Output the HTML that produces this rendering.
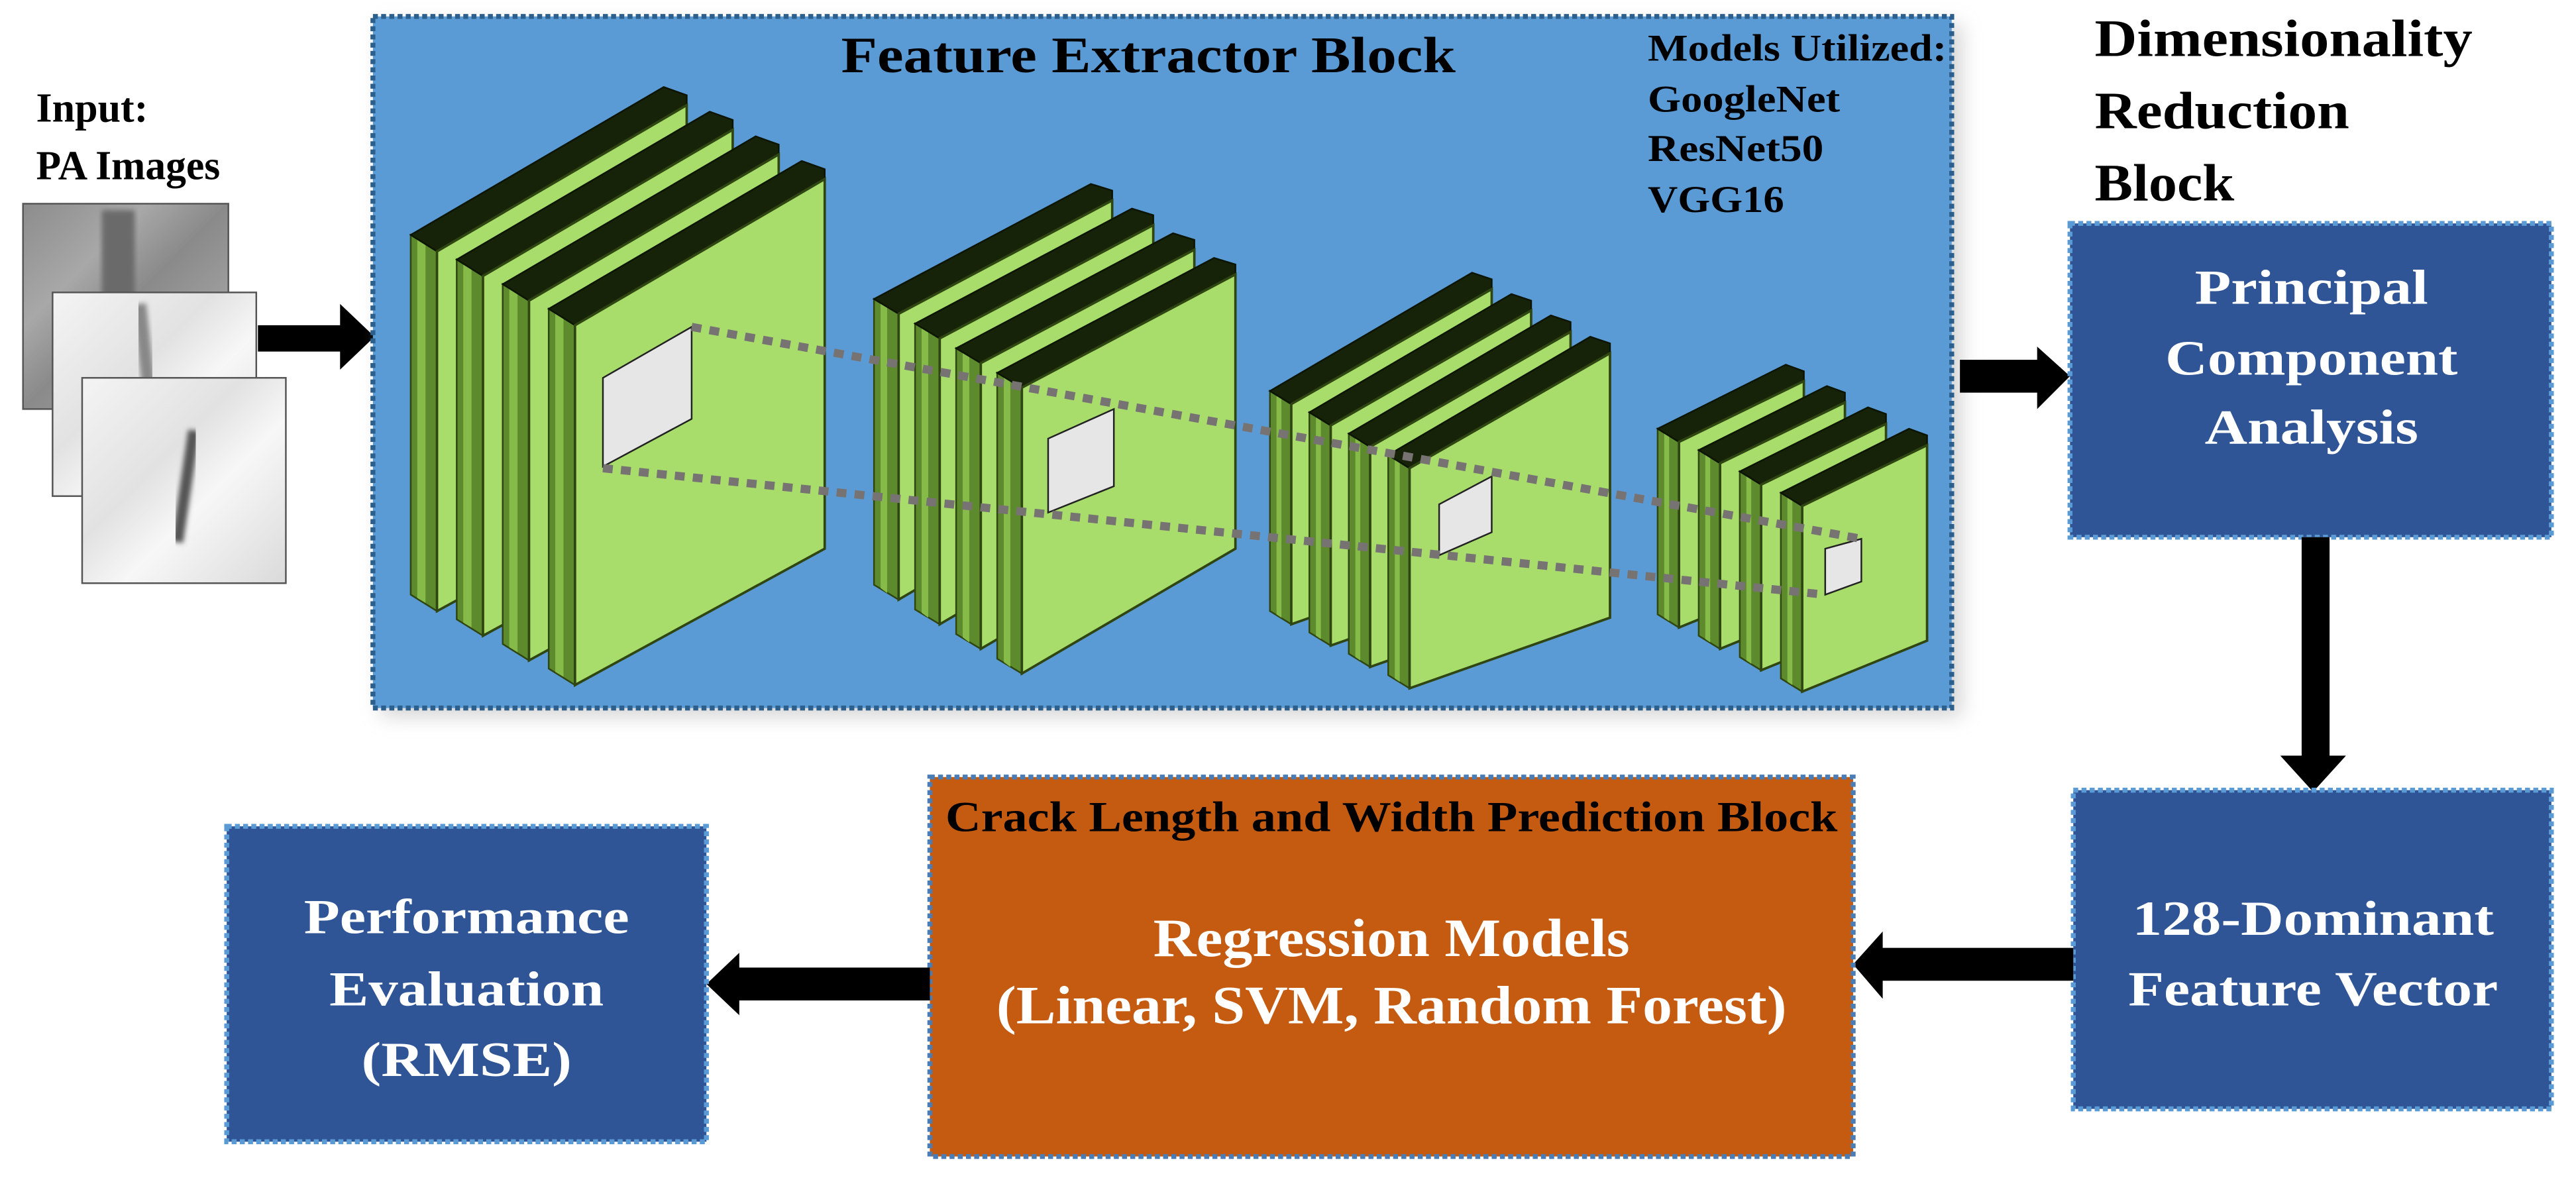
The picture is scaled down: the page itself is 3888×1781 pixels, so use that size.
<!DOCTYPE html>
<html><head><meta charset="utf-8"><style>
html,body{margin:0;padding:0;background:#fff;}
svg{display:block;}
text{font-family:"Liberation Serif",serif;font-weight:bold;}
</style></head><body>
<svg width="3888" height="1781" viewBox="0 0 1568 718.3" preserveAspectRatio="none" xmlns="http://www.w3.org/2000/svg">
<defs>
<linearGradient id="g1" x1="0" y1="0" x2="1" y2="1">
<stop offset="0" stop-color="#8c8c8c"/><stop offset="0.3" stop-color="#a8a8a8"/><stop offset="0.5" stop-color="#8a8a8a"/><stop offset="0.75" stop-color="#a0a0a0"/><stop offset="1" stop-color="#808080"/></linearGradient>
<linearGradient id="g2" x1="0" y1="0" x2="1" y2="1">
<stop offset="0" stop-color="#f4f4f4"/><stop offset="0.4" stop-color="#e2e2e2"/><stop offset="0.6" stop-color="#f7f7f7"/><stop offset="1" stop-color="#dadada"/></linearGradient>
<filter id="bl"><feGaussianBlur stdDeviation="1.5"/></filter>
<filter id="sh" x="-20%" y="-20%" width="140%" height="140%"><feGaussianBlur stdDeviation="6"/></filter>

<!-- stack 1 plate -->
<g id="p1">
<polygon points="350,198 350,417 334,407 334,188" fill="#5d8a2c" stroke="#2f4512" stroke-width="1"/>
<polygon points="343,193 343,412 338,409 338,190" fill="#86bb4a"/>
<polygon points="350,198 502,109 502,103 488,98 334,188" fill="#172309" stroke="#0c1404" stroke-width="1"/>
<polygon points="350,198 502,109 502,334 350,417" fill="#a8dd6c" stroke="#2f4512" stroke-width="1.5"/>
</g>
<g id="p2">
<polygon points="622,236 622,410 607,401 607,227" fill="#5d8a2c" stroke="#2f4512" stroke-width="1"/>
<polygon points="615,232 615,406 611,403 611,229" fill="#86bb4a"/>
<polygon points="622,236 752,167 752,161 739,157 607,227" fill="#172309" stroke="#0c1404" stroke-width="1"/>
<polygon points="622,236 752,167 752,334 622,410" fill="#a8dd6c" stroke="#2f4512" stroke-width="1.5"/>
</g>
<g id="p3">
<polygon points="858,285 858,419 845,411 845,277" fill="#5d8a2c" stroke="#2f4512" stroke-width="1"/>
<polygon points="852,281 852,415 849,413 849,279" fill="#86bb4a"/>
<polygon points="858,285 980,215 980,209 968,205 845,277" fill="#172309" stroke="#0c1404" stroke-width="1"/>
<polygon points="858,285 980,215 980,376 858,419" fill="#a8dd6c" stroke="#2f4512" stroke-width="1.5"/>
</g>
<g id="p4">
<polygon points="1097,308 1097,421 1084,413 1084,300" fill="#5d8a2c" stroke="#2f4512" stroke-width="1"/>
<polygon points="1091,304 1091,417 1088,415 1088,302" fill="#86bb4a"/>
<polygon points="1097,308 1173,271 1173,265 1162,261 1084,300" fill="#172309" stroke="#0c1404" stroke-width="1"/>
<polygon points="1097,308 1173,271 1173,390 1097,421" fill="#a8dd6c" stroke="#2f4512" stroke-width="1.5"/>
</g>
</defs>

<!-- Input -->
<text x="22" y="74" font-size="25">Input:</text>
<text x="22" y="109" font-size="25" textLength="112" lengthAdjust="spacingAndGlyphs">PA Images</text>
<rect x="14" y="124" width="125" height="125" fill="url(#g1)" stroke="#555" stroke-width="1"/>
<rect x="62" y="128" width="20" height="110" fill="#6a6a6a" filter="url(#bl)"/>
<rect x="32" y="178" width="124" height="124" fill="url(#g2)" stroke="#555" stroke-width="1"/>
<path d="M85 185 L92 250" stroke="#888" stroke-width="8" filter="url(#bl)"/>
<rect x="50" y="230" width="124" height="125" fill="url(#g2)" stroke="#555" stroke-width="1"/>
<path d="M118 262 L108 330" stroke="#555" stroke-width="7" filter="url(#bl)"/>

<!-- input arrow -->
<polygon points="157,198 207,198 207,185 228,205 207,225 207,214 157,214" fill="#000"/>

<!-- Feature extractor block -->
<rect x="232" y="15" width="962" height="421" fill="#aaa" opacity="0.5" filter="url(#sh)"/>
<rect x="227" y="10" width="961" height="421" fill="#5b9bd5" stroke="#2c5f8c" stroke-width="3" stroke-dasharray="3 2"/>
<text x="512" y="44" font-size="31" textLength="374" lengthAdjust="spacingAndGlyphs">Feature Extractor Block</text>
<text x="1003" y="37" font-size="23" textLength="182" lengthAdjust="spacingAndGlyphs">Models Utilized:</text>
<text x="1003" y="68" font-size="23" textLength="117" lengthAdjust="spacingAndGlyphs">GoogleNet</text>
<text x="1003" y="98" font-size="23" textLength="107" lengthAdjust="spacingAndGlyphs">ResNet50</text>
<text x="1003" y="129" font-size="23" textLength="83" lengthAdjust="spacingAndGlyphs">VGG16</text>

<!-- stacks -->
<use href="#p1" transform="translate(-84,-45)"/>
<use href="#p1" transform="translate(-56,-30)"/>
<use href="#p1" transform="translate(-28,-15)"/>
<use href="#p1"/>
<polygon points="367,230 421,199 421,255 367,284" fill="#e6e6e6" stroke="#222" stroke-width="1"/>

<use href="#p2" transform="translate(-75,-45)"/>
<use href="#p2" transform="translate(-50,-30)"/>
<use href="#p2" transform="translate(-25,-15)"/>
<use href="#p2"/>
<polygon points="638,267 678,249 678,296 638,312" fill="#e6e6e6" stroke="#222" stroke-width="1"/>

<use href="#p3" transform="translate(-72,-39)"/>
<use href="#p3" transform="translate(-48,-26)"/>
<use href="#p3" transform="translate(-24,-13)"/>
<use href="#p3"/>
<polygon points="876,307 908,290 908,324 876,338" fill="#e6e6e6" stroke="#222" stroke-width="1"/>

<use href="#p4" transform="translate(-75,-39)"/>
<use href="#p4" transform="translate(-50,-26)"/>
<use href="#p4" transform="translate(-25,-13)"/>
<use href="#p4"/>
<polygon points="1111,334 1133,328 1133,354 1111,362" fill="#e6e6e6" stroke="#222" stroke-width="1"/>

<!-- dashed lines -->
<line x1="421" y1="199" x2="1133" y2="328" stroke="#787373" stroke-width="5" stroke-dasharray="6 5"/>
<line x1="367" y1="285" x2="1111" y2="362" stroke="#787373" stroke-width="5" stroke-dasharray="6 5"/>

<!-- arrow to PCA -->
<polygon points="1193,219 1240,219 1240,211 1260,229 1240,249 1240,239 1193,239" fill="#000"/>

<!-- Dimensionality -->
<text x="1275" y="34" font-size="32" textLength="230" lengthAdjust="spacingAndGlyphs">Dimensionality</text>
<text x="1275" y="78" font-size="32" textLength="155" lengthAdjust="spacingAndGlyphs">Reduction</text>
<text x="1275" y="122" font-size="32" textLength="85" lengthAdjust="spacingAndGlyphs">Block</text>

<!-- PCA box -->
<rect x="1260" y="136" width="293" height="191" fill="#2f5597" stroke="#5b9bd5" stroke-width="3" stroke-dasharray="3 2"/>
<g fill="#fff" text-anchor="middle" font-size="30">
<text x="1407" y="185" textLength="142" lengthAdjust="spacingAndGlyphs">Principal</text>
<text x="1407" y="228" textLength="178" lengthAdjust="spacingAndGlyphs">Component</text>
<text x="1407" y="270" textLength="130" lengthAdjust="spacingAndGlyphs">Analysis</text>
</g>

<!-- vertical arrow -->
<polygon points="1401,327 1418,327 1418,460 1428,460 1408,482 1388,460 1401,460" fill="#000"/>

<!-- 128 box -->
<rect x="1262" y="481" width="291" height="194" fill="#2f5597" stroke="#5b9bd5" stroke-width="3" stroke-dasharray="3 2"/>
<g fill="#fff" text-anchor="middle" font-size="30">
<text x="1408" y="569" textLength="220" lengthAdjust="spacingAndGlyphs">128-Dominant</text>
<text x="1408" y="612" textLength="225" lengthAdjust="spacingAndGlyphs">Feature Vector</text>
</g>

<!-- arrow 128 -> orange -->
<polygon points="1262,577 1146,577 1146,567 1128,587 1146,608 1146,597 1262,597" fill="#000"/>

<!-- orange box -->
<rect x="566" y="473" width="562" height="231" fill="#c55a11" stroke="#4a7db5" stroke-width="3" stroke-dasharray="3 2"/>
<text x="847" y="506" text-anchor="middle" font-size="26" textLength="543" lengthAdjust="spacingAndGlyphs">Crack Length and Width Prediction Block</text>
<g fill="#fff" text-anchor="middle" font-size="33">
<text x="847" y="582" textLength="290" lengthAdjust="spacingAndGlyphs">Regression Models</text>
<text x="847" y="623" textLength="481" lengthAdjust="spacingAndGlyphs">(Linear, SVM, Random Forest)</text>
</g>

<!-- arrow orange -> perf -->
<polygon points="566,589 450,589 450,580 430,599 450,618 450,609 566,609" fill="#000"/>

<!-- performance box -->
<rect x="138" y="503" width="292" height="192" fill="#2f5597" stroke="#5b9bd5" stroke-width="3" stroke-dasharray="3 2"/>
<g fill="#fff" text-anchor="middle" font-size="30">
<text x="284" y="568" textLength="198" lengthAdjust="spacingAndGlyphs">Performance</text>
<text x="284" y="612" textLength="167" lengthAdjust="spacingAndGlyphs">Evaluation</text>
<text x="284" y="655" textLength="128" lengthAdjust="spacingAndGlyphs">(RMSE)</text>
</g>
</svg>
</body></html>
